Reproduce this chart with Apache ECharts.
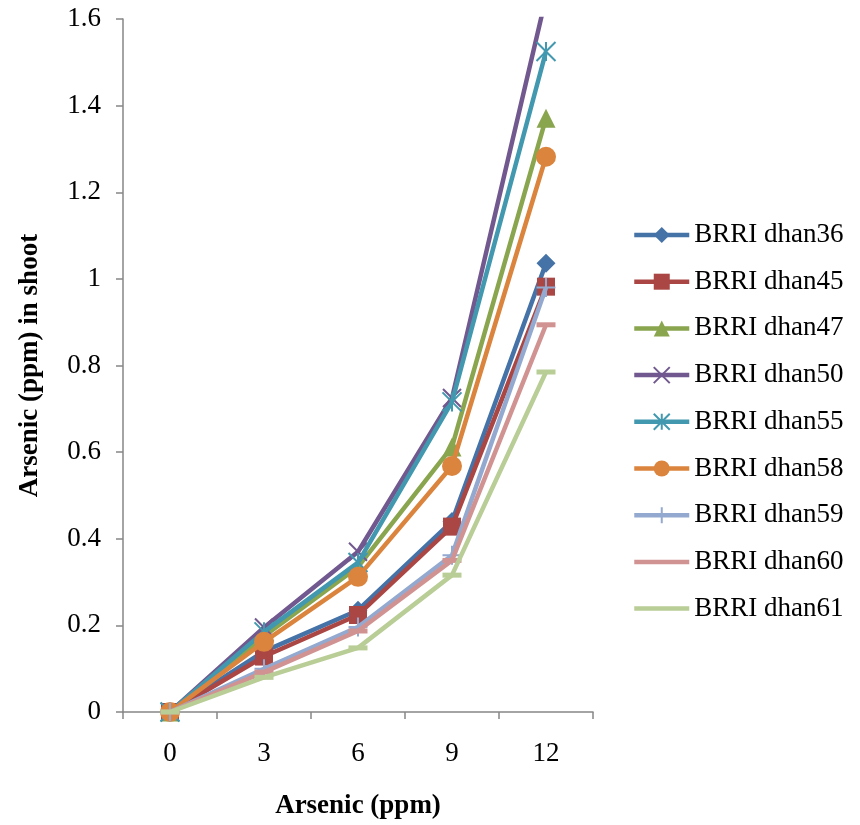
<!DOCTYPE html>
<html>
<head>
<meta charset="utf-8">
<script src="https://cdn.jsdelivr.net/npm/echarts@6/dist/echarts.min.js"></script>
<style>html,body{margin:0;padding:0;background:#fff;}#c{width:860px;height:825px;}</style>
</head>
<body>
<div id="c"></div>
<script>
const categories = ['0', '3', '6', '9', '12'];
const seriesNames = ['BRRI dhan36','BRRI dhan45','BRRI dhan47','BRRI dhan50','BRRI dhan55','BRRI dhan58','BRRI dhan59','BRRI dhan60','BRRI dhan61'];
const dhan36 = [0, 0.14, 0.235, 0.44, 1.036];
const dhan45 = [0, 0.128, 0.224, 0.428, 0.982];
const dhan47 = [0, 0.175, 0.335, 0.612, 1.371];
const dhan50 = [0, 0.195, 0.37, 0.725, 1.65];
const dhan55 = [0, 0.185, 0.345, 0.716, 1.525];
const dhan58 = [0, 0.162, 0.312, 0.568, 1.282];
const dhan59 = [0, 0.1, 0.196, 0.362, 0.98];
const dhan60 = [0, 0.092, 0.187, 0.35, 0.894];
const dhan61 = [0, 0.08, 0.148, 0.316, 0.785];
const yTicks = { min: 0, max: 1.6, interval: 0.2 };

const values = [dhan36, dhan45, dhan47, dhan50, dhan55, dhan58, dhan59, dhan60, dhan61];
const colors = ['#4572A7','#AA4643','#89A54E','#71588F','#4198AF','#DB843D','#93A9CF','#D19392','#B9CD96'];
const symbols = ['diamond','rect','triangle','path://M0,0L10,10M10,0L0,10','path://M0,0L10,10M10,0L0,10M5,0L5,10','circle','path://M5,0L5,10M0,5L10,5','rect','rect'];
const sizes = [19, 18, 19, 18, 19, 20, 19, [19,5], [19,5]];
const strokeOnly = [false,false,false,true,true,false,true,false,false];

const FONT = 'Liberation Serif';
const series = seriesNames.map((n, i) => ({
  name: n,
  type: 'line',
  data: values[i],
  symbol: symbols[i],
  symbolSize: sizes[i],
  symbolKeepAspect: false,
  lineStyle: { color: colors[i], width: 4.5 },
  itemStyle: { color: colors[i], borderColor: colors[i], borderWidth: strokeOnly[i] ? 2 : 0 },
  emphasis: { disabled: true },
  animation: false,
  z: 2 + i
}));

const legendData = seriesNames.map((n, i) => {
  if (i >= 7) {
    return { name: n, icon: 'path://M0,0L55,0L55,4.5L0,4.5Z', itemStyle: { color: colors[i] } };
  }
  return { name: n };
});

const chart = echarts.init(document.getElementById('c'), null, { renderer: 'canvas' });
chart.setOption({
  backgroundColor: '#fff',
  animation: false,
  grid: { left: 123, right: 267, top: 19, bottom: 113, containLabel: false, outerBoundsMode: 'none' },
  legend: {
    orient: 'vertical',
    left: 627,
    top: 216,
    itemWidth: 55,
    itemHeight: 20,
    itemGap: 18.7,
    lineStyle: { width: 4.5 },
    textStyle: { fontFamily: FONT, fontSize: 27, lineHeight: 28, color: '#000' },
    data: legendData
  },
  xAxis: {
    type: 'category',
    data: categories,
    boundaryGap: true,
    name: 'Arsenic (ppm)',
    nameLocation: 'middle',
    nameGap: 81,
    nameTextStyle: { fontFamily: FONT, fontSize: 27, fontWeight: 'bold', color: '#000' },
    axisLine: { lineStyle: { color: '#868686', width: 1.5 } },
    axisTick: { show: true, length: 7, lineStyle: { color: '#868686', width: 1.5 } },
    axisLabel: { fontFamily: FONT, fontSize: 27, color: '#000', margin: 28 },
    splitLine: { show: false }
  },
  yAxis: {
    type: 'value',
    min: yTicks.min,
    max: yTicks.max,
    interval: yTicks.interval,
    name: 'Arsenic (ppm) in shoot',
    nameLocation: 'middle',
    nameGap: 79,
    nameTextStyle: { fontFamily: FONT, fontSize: 27, fontWeight: 'bold', color: '#000' },
    axisLine: { show: true, lineStyle: { color: '#868686', width: 1.5 } },
    axisTick: { show: true, length: 7, lineStyle: { color: '#868686', width: 1.5 } },
    axisLabel: { fontFamily: FONT, fontSize: 27, color: '#000', margin: 22 },
    splitLine: { show: false }
  },
  series: series
});
</script>
</body>
</html>
